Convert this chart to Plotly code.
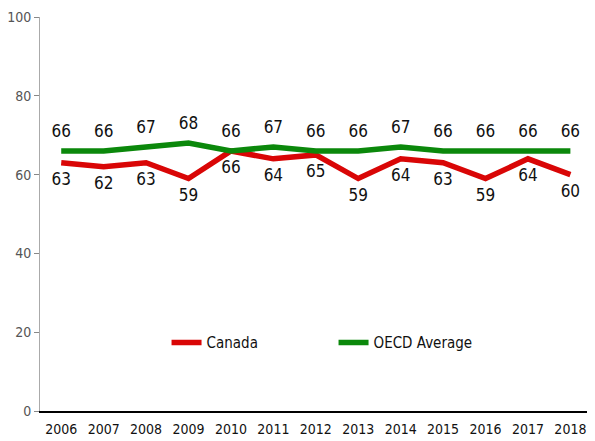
import plotly.graph_objects as go

years = ["2006", "2007", "2008", "2009", "2010", "2011", "2012", "2013", "2014", "2015", "2016", "2017", "2018"]
canada = [63, 62, 63, 59, 66, 64, 65, 59, 64, 63, 59, 64, 60]
oecd = [66, 66, 67, 68, 66, 67, 66, 66, 67, 66, 66, 66, 66]
y_ticks = [0, 20, 40, 60, 80, 100]

FONT = "DejaVu Sans Condensed, Roboto, sans-serif"
RED = "#d90606"
GREEN = "#0b880b"

fig = go.Figure()
fig.add_trace(go.Scatter(
    x=years, y=canada, name="Canada", mode="lines+markers+text",
    line=dict(color=RED, width=5.5),
    marker=dict(size=14, color="rgba(0,0,0,0)"),
    text=[str(v) for v in canada], textposition="bottom center",
    textfont=dict(family=FONT, size=17, color="#111"),
))
fig.add_trace(go.Scatter(
    x=years, y=oecd, name="OECD Average", mode="lines+markers+text",
    line=dict(color=GREEN, width=5.5),
    marker=dict(size=14, color="rgba(0,0,0,0)"),
    text=[str(v) for v in oecd], textposition="top center",
    textfont=dict(family=FONT, size=17, color="#111"),
))

fig.update_layout(
    width=587, height=433,
    margin=dict(l=32, r=0, t=9, b=30),
    paper_bgcolor="white", plot_bgcolor="white",
    font=dict(family=FONT, size=14, color="#111"),
    showlegend=True,
    legend=dict(orientation="h", x=0.228, y=0.173, xanchor="left", yanchor="middle",
                font=dict(family=FONT, size=15, color="#111"),
                entrywidth=122, bgcolor="rgba(0,0,0,0)"),
    xaxis=dict(type="category", range=[-0.5, 12.58], showgrid=False,
               showline=True, linecolor="#000", linewidth=1.5,
               ticks="", ticklabelstandoff=4,
               tickfont=dict(family=FONT, size=14, color="#111")),
    yaxis=dict(range=[0, 100], tickvals=y_ticks, showgrid=False, zeroline=False,
               showline=True, linecolor="#aaa", linewidth=1,
               ticks="outside", ticklen=5, tickcolor="#888",
               tickfont=dict(family=FONT, size=14, color="#555")),
)

fig.write_html("out.html")
